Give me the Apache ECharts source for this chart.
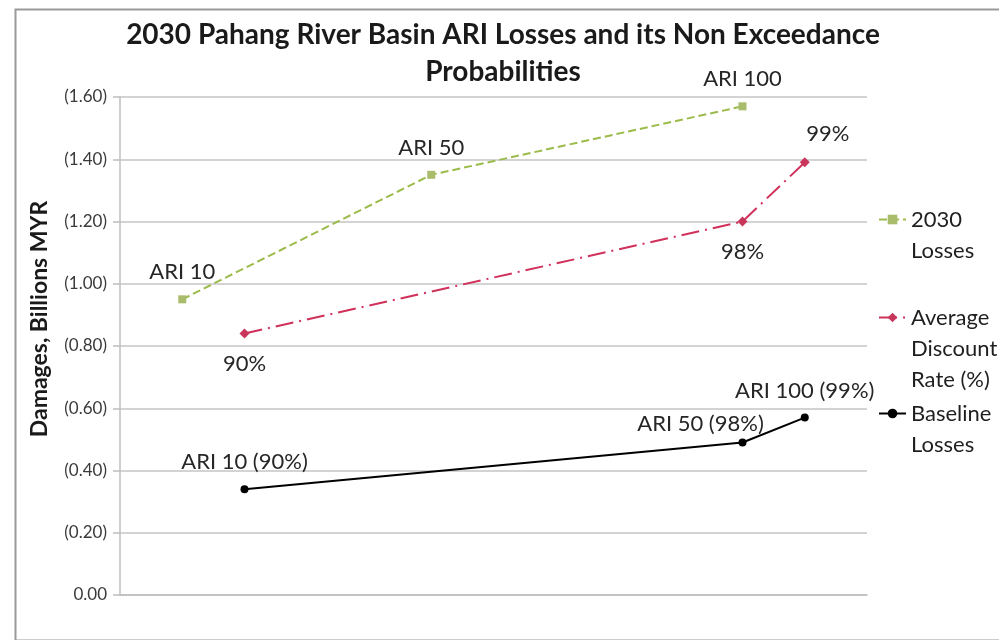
<!DOCTYPE html>
<html>
<head>
<meta charset="utf-8">
<script src="https://cdn.jsdelivr.net/npm/echarts@6/dist/echarts.min.js"></script>
<style>
  html, body { margin: 0; padding: 0; background: #ffffff; }
  #chart { width: 999px; height: 640px; }
</style>
</head>
<body>
<div id="chart"></div>
<script>
// Non-exceedance probability (%) used as the horizontal position of each point
const losses2030X = [89, 93, 98];
const losses2030Y = [0.95, 1.35, 1.57];
const losses2030Labels = ['ARI 10', 'ARI 50', 'ARI 100'];

const discountX = [90, 98, 99];
const discountY = [0.84, 1.20, 1.39];
const discountLabels = ['90%', '98%', '99%'];

const baselineX = [90, 98, 99];
const baselineY = [0.34, 0.49, 0.57];
const baselineLabels = ['ARI 10 (90%)', 'ARI 50 (98%)', 'ARI 100 (99%)'];

const seriesNames = ['2030 Losses', 'Average Discount Rate (%)', 'Baseline Losses'];
const legendText = ['2030\nLosses', 'Average\nDiscount\nRate (%)', 'Baseline\nLosses'];

const yTicks = { min: 0, max: 1.6, interval: 0.2 };

const FONT = 'Lato, "Open Sans", sans-serif';
const LINE_H = 31;

function pairs(xs, ys) {
  return xs.map((x, i) => [x, ys[i]]);
}

// Legend entries wrap onto several lines; leading empty lines keep the
// icon level with the first line of the wrapped text.
function legendFor(idx, top) {
  const lines = legendText[idx].split('\n').length;
  const lead = '\n'.repeat(lines - 1);
  return {
    data: [seriesNames[idx]],
    orient: 'vertical',
    left: 878,
    top: top,
    padding: 0,
    itemWidth: 27,
    itemHeight: 12,
    itemGap: 6,
    selectedMode: false,
    formatter: () => lead + legendText[idx],
    textStyle: {
      fontFamily: FONT,
      fontSize: 22,
      color: '#1f1f1f',
      lineHeight: LINE_H
    }
  };
}

const labelStyle = {
  show: true,
  fontFamily: FONT,
  fontSize: 22,
  color: '#262626'
};

const chart = echarts.init(document.getElementById('chart'), null, { renderer: 'canvas' });

chart.setOption({
  backgroundColor: '#ffffff',
  animation: false,
  title: {
    text: '2030 Pahang River Basin ARI Losses and its Non Exceedance\nProbabilities',
    left: 503,
    top: 16,
    padding: 0,
    textAlign: 'center',
    textStyle: {
      fontFamily: FONT,
      fontWeight: 'bold',
      fontSize: 28,
      lineHeight: 37,
      color: '#1a1a1a'
    }
  },
  legend: [
    legendFor(0, 173),
    legendFor(1, 240),
    legendFor(2, 367)
  ],
  grid: {
    left: 120,
    right: 132,
    top: 97,
    bottom: 45,
    containLabel: false
  },
  xAxis: {
    type: 'value',
    min: 88,
    max: 100,
    axisLine: { show: true, onZero: false, lineStyle: { color: '#bfbfbf', width: 1.5 } },
    axisTick: { show: false },
    axisLabel: { show: false },
    splitLine: { show: false }
  },
  yAxis: {
    type: 'value',
    min: yTicks.min,
    max: yTicks.max,
    interval: yTicks.interval,
    axisLine: { show: true, lineStyle: { color: '#bfbfbf', width: 1.5 } },
    axisTick: { show: true, length: 7, lineStyle: { color: '#bfbfbf', width: 1.5 } },
    axisLabel: {
      fontFamily: FONT,
      fontSize: 17,
      color: '#3a3a3a',
      margin: 13,
      formatter: v => (v === 0 ? '0.00' : '(' + v.toFixed(2) + ')')
    },
    splitLine: { show: true, lineStyle: { color: '#c4c4c4', width: 1.5 } }
  },
  graphic: [
    {
      type: 'rect',
      left: 13,
      top: 7,
      shape: { width: 1000, height: 631 },
      style: { fill: 'none', stroke: '#9a9a9a', lineWidth: 2 },
      z: 0,
      silent: true
    },
    {
      type: 'text',
      x: 40,
      y: 319,
      rotation: Math.PI / 2,
      style: {
        text: 'Damages, Billions MYR',
        fontFamily: FONT,
        fontWeight: 'bold',
        fontSize: 23,
        fill: '#1a1a1a',
        textAlign: 'center',
        textVerticalAlign: 'middle'
      },
      silent: true
    }
  ],
  series: [
    {
      name: seriesNames[0],
      type: 'line',
      data: pairs(losses2030X, losses2030Y),
      symbol: 'rect',
      symbolSize: 8,
      itemStyle: { color: '#a9bc6c' },
      lineStyle: { color: '#9bbb4a', width: 2, type: [8, 4] },
      label: Object.assign({}, labelStyle, {
        position: 'top',
        distance: 12,
        formatter: p => losses2030Labels[p.dataIndex]
      }),
      z: 3
    },
    {
      name: seriesNames[1],
      type: 'line',
      data: pairs(discountX, discountY).map((d, i) =>
        i === 2
          ? { value: d, label: { position: 'top', offset: [23, 2] } }
          : { value: d }
      ),
      symbol: 'diamond',
      symbolSize: 10,
      itemStyle: { color: '#c8365c' },
      lineStyle: { color: '#d0305a', width: 2, type: [18, 6, 2, 6] },
      label: Object.assign({}, labelStyle, {
        position: 'bottom',
        distance: 14,
        formatter: p => discountLabels[p.dataIndex]
      }),
      z: 3
    },
    {
      name: seriesNames[2],
      type: 'line',
      data: pairs(baselineX, baselineY).map((d, i) =>
        i === 1
          ? { value: d, label: { position: 'top', offset: [-42, 8] } }
          : { value: d }
      ),
      symbol: 'circle',
      symbolSize: 8,
      itemStyle: { color: '#000000' },
      lineStyle: { color: '#000000', width: 2 },
      label: Object.assign({}, labelStyle, {
        position: 'top',
        distance: 12,
        formatter: p => baselineLabels[p.dataIndex]
      }),
      z: 3
    }
  ]
});
</script>
</body>
</html>
